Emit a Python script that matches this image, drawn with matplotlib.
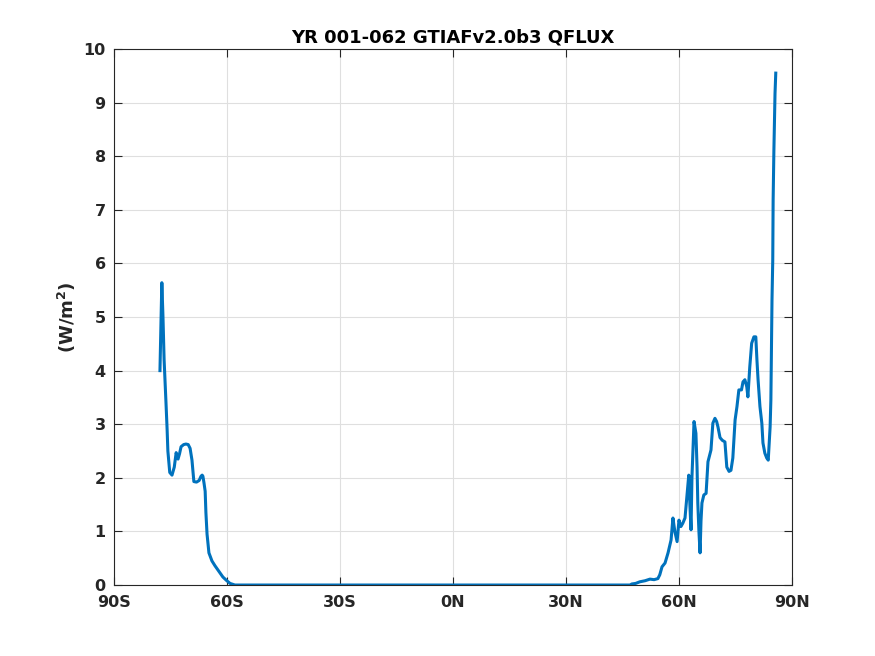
import numpy as np
import matplotlib
matplotlib.use('Agg')
import matplotlib.pyplot as plt

# latitudes (deg) and zonal mean QFLUX (W/m^2)
lat_sh = [-77.8, -77.5, -77.3, -77.0, -76.7, -76.2, -75.9, -75.7, -75.2, -74.6,
          -74.0, -73.5, -73.0, -72.6, -72.2, -71.5, -70.9, -70.3, -69.8, -69.3,
          -68.8, -68.1, -67.4, -66.9, -66.6, -66.4, -66.1, -65.8, -65.6, -65.3,
          -64.8, -64.0, -63.2, -62.4, -61.1, -60.2, -59.2, -57.9]
q_sh = [4.0, 5.0, 5.64, 5.0, 4.2, 3.4, 2.9, 2.5, 2.1, 2.05,
        2.2, 2.47, 2.35, 2.45, 2.58, 2.62, 2.63, 2.62, 2.55, 2.33,
        1.93, 1.92, 1.95, 2.03, 2.05, 2.03, 1.9, 1.75, 1.35, 0.95,
        0.6, 0.45, 0.36, 0.28, 0.15, 0.09, 0.03, 0.0]

lat_mid = [-57.0, 0.0, 47.0]
q_mid = [0.0, 0.0, 0.0]

lat_nh = [47.5, 48.5, 49.6, 51.0, 52.3, 53.4, 54.4, 54.9, 55.5, 56.3,
          57.1, 57.9, 58.4, 58.9, 59.5, 60.0, 60.5, 61.0, 61.6, 62.1,
          62.6, 62.9, 63.2, 63.45, 64.0, 64.5, 64.8, 65.0, 65.3, 65.6,
          65.85, 66.1, 66.6, 67.2, 67.7, 68.5, 69.0, 69.55, 70.0, 70.35,
          70.9, 71.5, 72.2, 72.7, 73.3, 73.8, 74.3, 74.9, 75.4, 75.9,
          76.6, 77.0, 77.5, 78.0, 78.3, 78.8, 79.3, 79.9, 80.4, 80.7,
          81.0, 81.5, 82.0, 82.3, 82.8, 83.3, 83.7, 84.2, 84.4, 84.7,
          84.9, 85.0, 85.2, 85.5, 85.7]
q_nh = [0.02, 0.03, 0.06, 0.08, 0.11, 0.1, 0.12, 0.19, 0.34, 0.41,
        0.6, 0.84, 1.25, 1.0, 0.81, 1.21, 1.09, 1.15, 1.25, 1.65,
        2.05, 1.5, 1.03, 2.02, 3.05, 2.83, 2.2, 1.53, 1.0, 0.6,
        1.2, 1.53, 1.68, 1.71, 2.3, 2.52, 3.02, 3.11, 3.05, 2.95,
        2.75, 2.7, 2.67, 2.2, 2.12, 2.14, 2.37, 3.08, 3.33, 3.64,
        3.64, 3.79, 3.83, 3.7, 3.51, 4.07, 4.51, 4.63, 4.63, 4.2,
        3.83, 3.33, 3.02, 2.65, 2.46, 2.37, 2.33, 2.95, 3.45, 5.32,
        6.06, 7.18, 8.1, 9.17, 9.55]

lat = np.array(lat_sh + lat_mid + lat_nh)
qflux = np.array(q_sh + q_mid + q_nh)

xticks = [-90, -60, -30, 0, 30, 60, 90]
xticklabels = ['90S', '60S', '30S', '0N', '30N', '60N', '90N']
yticks = list(range(0, 11))

plt.rcParams['font.family'] = ['DejaVu Sans']
plt.rcParams['font.weight'] = 'bold'

fig = plt.figure(figsize=(8.75, 6.56), dpi=100)
ax = fig.add_axes([0.1303, 0.1082, 0.7748, 0.8171])

ax.plot(lat, qflux, color='#0072BD', linewidth=2.2)

ax.set_xlim(-90, 90)
ax.set_ylim(0, 10)
ax.set_xticks(xticks)
ax.set_xticklabels(xticklabels)
ax.set_yticks(yticks)
ax.grid(True, color='#dfdfdf', linewidth=0.8)
ax.set_axisbelow(True)

for sp in ax.spines.values():
    sp.set_color('#262626')
    sp.set_linewidth(0.8)
ax.tick_params(direction='in', length=6, width=0.8, colors='#262626',
               labelsize=11.5, top=True, right=True)
ax.tick_params(axis='x', pad=7)
ax.tick_params(axis='y', pad=6)
for lbl in ax.get_xticklabels() + ax.get_yticklabels():
    lbl.set_fontweight('bold')

ax.set_title('YR 001-062 GTIAFv2.0b3 QFLUX', fontsize=13, fontweight='bold',
             color='black', pad=5)
ax.set_ylabel('(W/m$^\\mathbf{2}$)', fontsize=13, fontweight='bold',
              color='#262626', labelpad=4)

plt.savefig('out.png')
